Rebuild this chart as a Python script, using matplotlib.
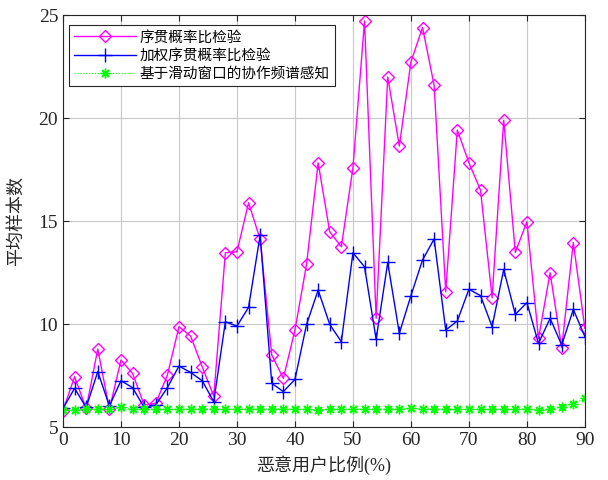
import matplotlib.pyplot as plt

plt.rcParams['font.family'] = ['Liberation Serif', 'Noto Sans CJK SC']
plt.rcParams['axes.unicode_minus'] = False

# 恶意用户比例 (%)
ratio = list(range(0, 92, 2))

# 平均样本数
sprt = [5.8, 7.44, 5.9, 8.79, 5.86, 8.25, 7.6, 6.07, 6.15, 7.52,
        9.87, 9.42, 7.93, 6.5, 13.46, 13.51, 15.89, 14.11, 8.5, 7.36,
        9.71, 12.9, 17.83, 14.48, 13.75, 17.59, 24.72, 10.28, 22.0, 18.64,
        22.73, 24.4, 21.6, 11.57, 19.42, 17.83, 16.5, 11.28, 19.9, 13.48,
        14.97, 9.3, 12.49, 8.85, 13.96, 9.79]
wsprt = [5.9, 6.88, 5.95, 7.69, 6.02, 7.25, 6.91, 5.95, 6.07, 6.91,
         7.96, 7.65, 7.25, 6.23, 10.11, 9.9, 10.81, 14.32, 7.12, 6.72,
         7.31, 9.98, 11.65, 9.98, 9.14, 13.46, 12.78, 9.26, 12.99, 9.55,
         11.38, 13.11, 14.13, 9.71, 10.15, 11.69, 11.38, 9.87, 12.65, 10.47,
         11.04, 9.06, 10.28, 8.98, 10.71, 9.39]
sliding = [5.82, 5.85, 5.86, 5.87, 5.86, 5.95, 5.86, 5.88, 5.86, 5.86,
           5.86, 5.87, 5.88, 5.86, 5.86, 5.86, 5.88, 5.87, 5.88, 5.88,
           5.88, 5.86, 5.84, 5.86, 5.86, 5.87, 5.86, 5.87, 5.86, 5.88,
           5.9, 5.88, 5.88, 5.86, 5.86, 5.86, 5.86, 5.86, 5.86, 5.86,
           5.88, 5.84, 5.86, 5.99, 6.12, 6.39]

labels = ['序贯概率比检验', '加权序贯概率比检验', '基于滑动窗口的协作频谱感知']

fig = plt.figure(figsize=(6.08, 4.8), dpi=100)
ax = fig.add_axes([0.1036, 0.1104, 0.8584, 0.858])

ax.plot(ratio, sprt, color='#ff00ff', lw=1.0, marker='D', ms=6.5,
        mfc='none', mec='#ff00ff', mew=1.0, label=labels[0])
ax.plot(ratio, wsprt, color='#0000ff', lw=1.0, marker='+', ms=10,
        mew=1.0, label=labels[1])
# 8-arm asterisk marker
ax.plot(ratio, sliding, color='#00ff00', lw=0.8, ls=':', marker=(8, 2, 0), ms=7,
        mew=1.0, label=labels[2])

ax.set_xlim(0, 90)
ax.set_ylim(5, 25)
ax.set_xticks(range(0, 91, 10))
ax.set_yticks(range(5, 26, 5))
ax.tick_params(direction='in', labelsize=14, length=4, top=True, right=True,
               colors='#262626', labelcolor='#262626')
for s in ax.spines.values():
    s.set_color('#262626')
    s.set_linewidth(0.8)
ax.grid(True, color='#c8c8c8', lw=0.8)

ax.set_xlabel('恶意用户比例(%)', fontsize=13, color='#262626', labelpad=5)
ax.set_ylabel('平均样本数', fontsize=13, color='#262626', labelpad=10)

leg = ax.legend(loc='upper left', bbox_to_anchor=(0.012, 0.975), fontsize=10.5,
                fancybox=False, edgecolor='#262626', framealpha=1,
                handlelength=4.2, borderpad=0.35, labelspacing=0.3,
                handletextpad=0.3, borderaxespad=0)
leg.get_frame().set_linewidth(0.8)

fig.savefig('out.png', dpi=100)
